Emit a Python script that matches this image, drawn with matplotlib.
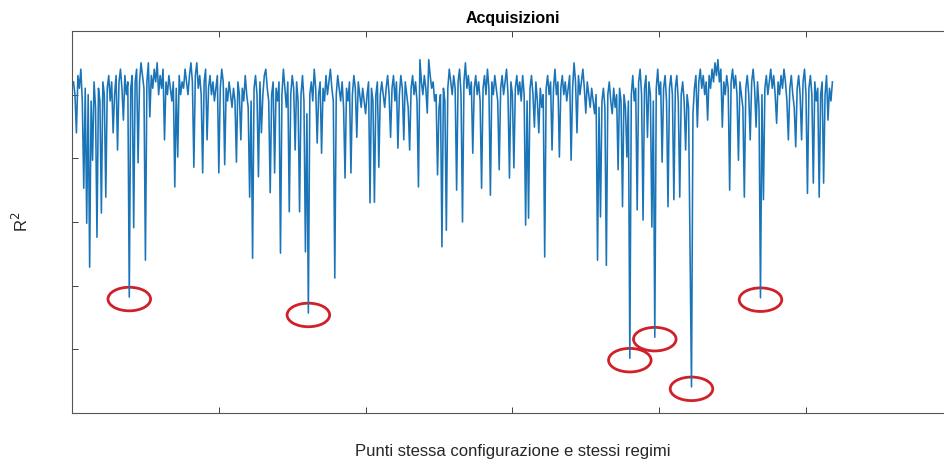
import numpy as np
import matplotlib.pyplot as plt
from matplotlib.patches import Ellipse

plt.rcParams['font.family'] = ['Liberation Sans', 'DejaVu Sans']

# valori R^2 (un punto per acquisizione)
r2 = [
    0.92, 0.90, 0.84, 0.93, 0.91, 0.94, 0.89, 0.753, 0.91, 0.698,
    0.90, 0.629, 0.89, 0.797, 0.92, 0.88, 0.676, 0.91, 0.89, 0.714,
    0.92, 0.90, 0.739, 0.91, 0.93, 0.89, 0.92, 0.84, 0.90, 0.93,
    0.813, 0.92, 0.94, 0.91, 0.86, 0.93, 0.90, 0.92, 0.582, 0.91,
    0.93, 0.691, 0.92, 0.94, 0.793, 0.92, 0.95, 0.93, 0.91, 0.64,
    0.92, 0.95, 0.865, 0.93, 0.91, 0.94, 0.92, 0.95, 0.90, 0.93,
    0.91, 0.94, 0.829, 0.92, 0.90, 0.93, 0.91, 0.89, 0.92, 0.755,
    0.91, 0.802, 0.93, 0.90, 0.92, 0.91, 0.94, 0.92, 0.90, 0.93,
    0.95, 0.92, 0.786, 0.93, 0.95, 0.91, 0.93, 0.90, 0.777, 0.92,
    0.94, 0.829, 0.91, 0.93, 0.90, 0.92, 0.89, 0.91, 0.93, 0.777,
    0.91, 0.94, 0.92, 0.79, 0.91, 0.89, 0.92, 0.90, 0.88, 0.91,
    0.89, 0.794, 0.92, 0.90, 0.829, 0.91, 0.89, 0.93, 0.90, 0.88,
    0.739, 0.89, 0.643, 0.91, 0.93, 0.90, 0.771, 0.92, 0.84, 0.90,
    0.93, 0.94, 0.91, 0.89, 0.746, 0.90, 0.92, 0.777, 0.91, 0.89,
    0.92, 0.651, 0.90, 0.94, 0.91, 0.88, 0.92, 0.716, 0.90, 0.93,
    0.91, 0.813, 0.92, 0.89, 0.716, 0.90, 0.93, 0.89, 0.653, 0.87,
    0.557, 0.90, 0.92, 0.89, 0.94, 0.91, 0.824, 0.90, 0.92, 0.808,
    0.91, 0.89, 0.93, 0.90, 0.92, 0.94, 0.91, 0.89, 0.612, 0.90,
    0.93, 0.91, 0.89, 0.92, 0.88, 0.769, 0.91, 0.89, 0.92, 0.777,
    0.90, 0.93, 0.91, 0.833, 0.92, 0.90, 0.88, 0.91, 0.89, 0.87,
    0.90, 0.92, 0.73, 0.91, 0.89, 0.731, 0.90, 0.92, 0.786, 0.90,
    0.92, 0.90, 0.88, 0.91, 0.93, 0.90, 0.833, 0.91, 0.93, 0.89,
    0.92, 0.816, 0.90, 0.93, 0.91, 0.829, 0.92, 0.90, 0.88, 0.813,
    0.91, 0.93, 0.90, 0.92, 0.89, 0.755, 0.955, 0.92, 0.90, 0.93,
    0.91, 0.871, 0.955, 0.93, 0.91, 0.92, 0.89, 0.90, 0.774, 0.88,
    0.90, 0.661, 0.91, 0.89, 0.687, 0.91, 0.94, 0.92, 0.90, 0.93,
    0.91, 0.75, 0.92, 0.94, 0.90, 0.70, 0.92, 0.95, 0.91, 0.93,
    0.90, 0.92, 0.808, 0.91, 0.93, 0.90, 0.92, 0.89, 0.753, 0.91,
    0.93, 0.90, 0.94, 0.91, 0.742, 0.92, 0.90, 0.93, 0.91, 0.89,
    0.782, 0.91, 0.93, 0.90, 0.92, 0.94, 0.90, 0.769, 0.92, 0.90,
    0.785, 0.91, 0.93, 0.90, 0.92, 0.89, 0.93, 0.90, 0.695, 0.89,
    0.706, 0.91, 0.93, 0.90, 0.849, 0.92, 0.89, 0.84, 0.91, 0.88,
    0.90, 0.645, 0.91, 0.93, 0.90, 0.92, 0.813, 0.91, 0.94, 0.90,
    0.92, 0.802, 0.91, 0.93, 0.90, 0.92, 0.89, 0.91, 0.93, 0.797,
    0.91, 0.95, 0.92, 0.84, 0.93, 0.90, 0.92, 0.94, 0.91, 0.871,
    0.92, 0.90, 0.88, 0.91, 0.89, 0.87, 0.90, 0.64, 0.88, 0.708,
    0.89, 0.91, 0.88, 0.632, 0.90, 0.92, 0.89, 0.87, 0.91, 0.88,
    0.90, 0.782, 0.91, 0.89, 0.724, 0.90, 0.88, 0.802, 0.89, 0.486,
    0.90, 0.93, 0.89, 0.91, 0.719, 0.92, 0.94, 0.90, 0.703, 0.91,
    0.93, 0.833, 0.92, 0.90, 0.692, 0.89, 0.519, 0.91, 0.94, 0.90,
    0.92, 0.794, 0.91, 0.93, 0.89, 0.724, 0.91, 0.93, 0.90, 0.735,
    0.91, 0.93, 0.89, 0.739, 0.90, 0.92, 0.89, 0.813, 0.90, 0.88,
    0.656, 0.441, 0.87, 0.91, 0.93, 0.849, 0.92, 0.94, 0.91, 0.93,
    0.90, 0.92, 0.86, 0.93, 0.91, 0.94, 0.92, 0.95, 0.93, 0.955,
    0.92, 0.94, 0.849, 0.92, 0.90, 0.93, 0.91, 0.75, 0.92, 0.94,
    0.91, 0.93, 0.90, 0.797, 0.92, 0.90, 0.88, 0.739, 0.91, 0.93,
    0.90, 0.829, 0.92, 0.94, 0.91, 0.849, 0.92, 0.88, 0.581, 0.90,
    0.735, 0.91, 0.93, 0.90, 0.92, 0.94, 0.91, 0.93, 0.90, 0.855,
    0.92, 0.90, 0.93, 0.91, 0.94, 0.92, 0.89, 0.829, 0.91, 0.93,
    0.90, 0.88, 0.818, 0.91, 0.93, 0.90, 0.829, 0.92, 0.94, 0.90,
    0.745, 0.91, 0.93, 0.90, 0.761, 0.92, 0.89, 0.91, 0.739, 0.90,
    0.92, 0.761, 0.90, 0.93, 0.86, 0.91, 0.89, 0.92,
]

# acquisizioni anomale cerchiate in rosso
cerchiati = [39, 161, 380, 397, 422, 469]

x_ticks = [0, 100, 200, 300, 400, 500, 600]
y_ticks = [0.4, 0.5, 0.6, 0.7, 0.8, 0.9, 1.0]

x = np.arange(1, len(r2) + 1)
r2 = np.array(r2)

fig = plt.figure(figsize=(9.44, 4.62), dpi=100)
ax = fig.add_axes([0.0763, 0.106, 0.933, 0.827])

ax.plot(x, r2, color='#1a74b8', linewidth=1.15)

for i in cerchiati:
    e = Ellipse((i, r2[i - 1] - 0.003), width=29, height=0.037,
                fill=False, edgecolor='#d0202a', linewidth=2.0)
    ax.add_patch(e)

ax.set_xlim(0, 600)
ax.set_ylim(0.4, 1.0)
ax.set_xticks(x_ticks)
ax.set_yticks(y_ticks)
# etichette dei tick cancellate nell'immagine originale
ax.set_xticklabels([''] * len(x_ticks))
ax.set_yticklabels([''] * len(y_ticks))
ax.tick_params(direction='in', length=4, width=0.7, color='#404040',
               top=True, right=True)
for s in ax.spines.values():
    s.set_color('#555555')
    s.set_linewidth(0.8)

ax.set_title('Acquisizioni', fontsize=11.5, fontweight='bold', pad=6)
ax.set_xlabel('Punti stessa configurazione e stessi regimi', fontsize=12,
              labelpad=19, color='#262626')
ax.set_ylabel('R$^2$', fontsize=12, labelpad=26, color='#262626')

fig.savefig('out.png', dpi=100)
